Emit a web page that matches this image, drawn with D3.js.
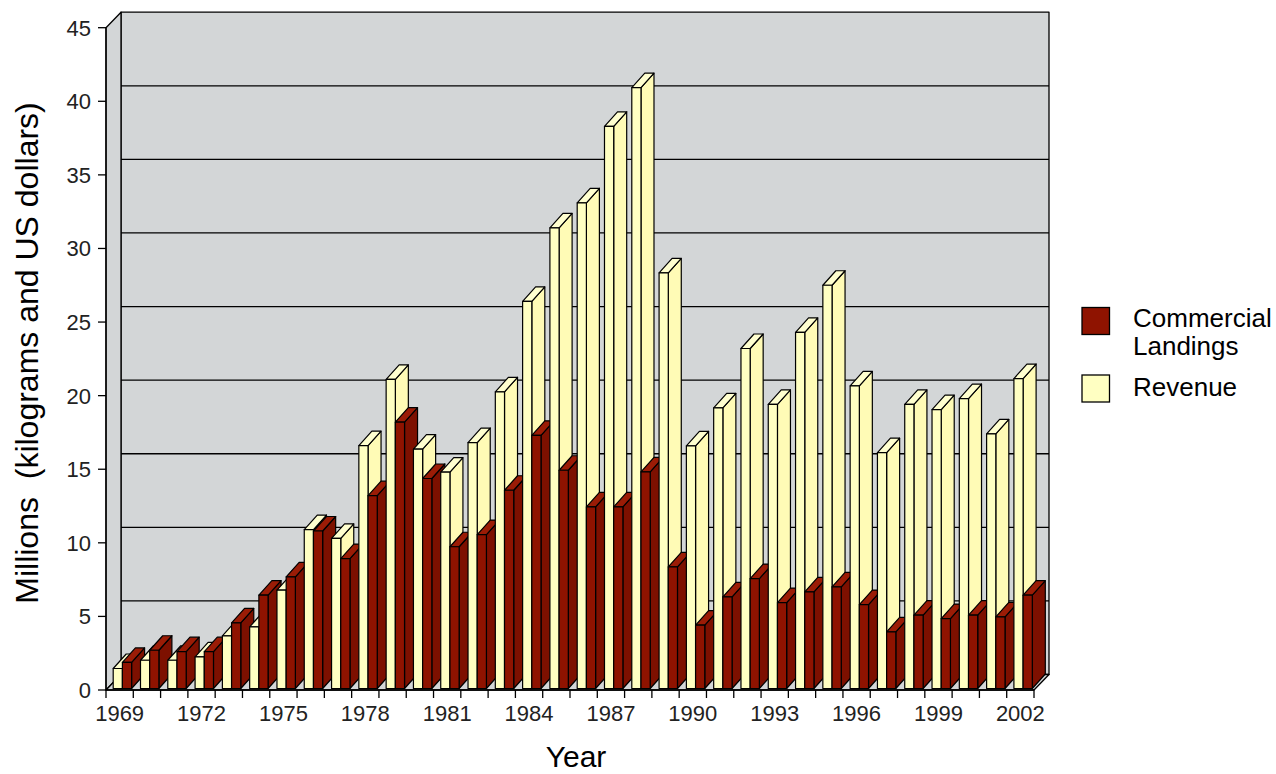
<!DOCTYPE html>
<html>
<head>
<meta charset="utf-8">
<script src="https://cdn.jsdelivr.net/npm/d3@7"></script>
<style>
  body { margin: 0; background: #fff; }
  text { font-family: "Liberation Sans", Arial, sans-serif; }
</style>
</head>
<body>
<div id="chart"></div>
<script>
// data
const years = [1969, 1970, 1971, 1972, 1973, 1974, 1975, 1976, 1977, 1978, 1979, 1980,
  1981, 1982, 1983, 1984, 1985, 1986, 1987, 1988, 1989, 1990, 1991, 1992, 1993, 1994,
  1995, 1996, 1997, 1998, 1999, 2000, 2001, 2002];
const revenue = [1.36, 1.92, 1.92, 2.15, 3.58, 4.19, 6.68, 10.8, 10.2, 16.5, 21.0, 16.26,
  14.7, 16.71, 20.16, 26.3, 31.3, 33.0, 38.2, 40.83, 28.24, 16.49, 19.07, 23.1, 19.3, 24.2,
  27.4, 20.56, 16.03, 19.3, 18.95, 19.7, 17.3, 21.06];
const landings = [1.77, 2.6, 2.5, 2.5, 4.46, 6.34, 7.59, 10.7, 8.83, 13.1, 18.1, 14.27,
  9.63, 10.46, 13.47, 17.2, 14.83, 12.34, 12.34, 14.72, 8.27, 4.3, 6.23, 7.47, 5.84, 6.57,
  6.91, 5.7, 3.85, 4.98, 4.75, 4.98, 4.87, 6.34];
const yTicks = [0, 5, 10, 15, 20, 25, 30, 35, 40, 45];
const xLabels = [1969, 1972, 1975, 1978, 1981, 1984, 1987, 1990, 1993, 1996, 1999, 2002];

const width = 1276, height = 774;
const plotLeft = 106, plotRight = 1034, plotBase = 690, plotTop = 27.7;
const depthX = 15, depthY = 15.5;      // wall depth
const barDX = 13, barDY = 14.5;        // bar depth
const grey = "#d3d6d7";
const red = { front: "#8f1300", side: "#7d1000", top: "#9b1c06" };
const yellow = { front: "#ffffc2", side: "#fffbb6", top: "#ffffcf" };

const svg = d3.select("#chart")
  .append("svg")
  .attr("width", width)
  .attr("height", height);

const x = d3.scaleBand().domain(years).range([plotLeft, plotRight]);
const y = d3.scaleLinear().domain([0, 45]).range([plotBase, plotTop]);

const line = d3.line();
const walls = svg.append("g")
  .attr("stroke", "#000")
  .attr("stroke-width", 1.3)
  .attr("stroke-linejoin", "round");

// back wall
walls.append("rect")
  .attr("x", plotLeft + depthX)
  .attr("y", y(45) - depthY)
  .attr("width", plotRight - plotLeft)
  .attr("height", plotBase - y(45))
  .attr("fill", grey);

// left wall
walls.append("path")
  .attr("fill", grey)
  .attr("d", line([[plotLeft, y(45)], [plotLeft + depthX, y(45) - depthY],
    [plotLeft + depthX, plotBase - depthY], [plotLeft, plotBase]]) + "Z");

// floor
walls.append("path")
  .attr("fill", grey)
  .attr("d", line([[plotLeft, plotBase], [plotRight, plotBase], [plotRight + depthX, plotBase - depthY],
    [plotLeft + depthX, plotBase - depthY]]) + "Z");

// gridlines on back wall
walls.selectAll("line.grid")
  .data(yTicks.filter(d => d > 0 && d < 45))
  .join("line")
  .attr("class", "grid")
  .attr("x1", plotLeft + depthX)
  .attr("x2", plotRight + depthX)
  .attr("y1", d => y(d) - depthY)
  .attr("y2", d => y(d) - depthY);

// bars
const barW = 9.2, barOff = 6.2;
const bars = svg.append("g")
  .attr("stroke", "#000")
  .attr("stroke-width", 1.2)
  .attr("stroke-linejoin", "round");

function box(x0, v, c) {
  const fx = x0 + 1, fb = plotBase - 1.5, ft = y(v) - 1.5;
  bars.append("path").attr("fill", c.side)
    .attr("d", line([[fx + barW, ft], [fx + barW + barDX, ft - barDY],
      [fx + barW + barDX, fb - barDY], [fx + barW, fb]]) + "Z");
  bars.append("path").attr("fill", c.top)
    .attr("d", line([[fx, ft], [fx + barW, ft], [fx + barW + barDX, ft - barDY],
      [fx + barDX, ft - barDY]]) + "Z");
  bars.append("rect").attr("fill", c.front)
    .attr("x", fx).attr("y", ft)
    .attr("width", barW).attr("height", fb - ft);
}

years.forEach((yr, i) => {
  const x0 = x(yr) + barOff;
  box(x0, revenue[i], yellow);
  box(x0 + barW, landings[i], red);
});

// axes
const axes = svg.append("g").attr("stroke", "#000").attr("stroke-width", 1.3);
axes.append("line").attr("x1", plotLeft).attr("x2", plotLeft).attr("y1", y(45)).attr("y2", plotBase);
axes.append("line").attr("x1", plotLeft).attr("x2", plotRight).attr("y1", plotBase).attr("y2", plotBase);
axes.selectAll("line.ytick")
  .data(yTicks)
  .join("line")
  .attr("class", "ytick")
  .attr("x1", plotLeft - 8).attr("x2", plotLeft)
  .attr("y1", d => y(d)).attr("y2", d => y(d));
axes.selectAll("line.xtick")
  .data(years.map(d => x(d)).concat([plotRight]))
  .join("line")
  .attr("class", "xtick")
  .attr("x1", d => d).attr("x2", d => d)
  .attr("y1", plotBase).attr("y2", plotBase + 8);

svg.append("g")
  .selectAll("text")
  .data(yTicks)
  .join("text")
  .attr("x", plotLeft - 15)
  .attr("y", d => y(d))
  .attr("dy", "0.36em")
  .attr("text-anchor", "end")
  .style("font-size", "22px")
  .style("fill", "#222")
  .text(d => d);

svg.append("g")
  .selectAll("text")
  .data(xLabels)
  .join("text")
  .attr("x", d => x(d) + x.bandwidth() / 2)
  .attr("y", 721)
  .attr("text-anchor", "middle")
  .style("font-size", "22px")
  .style("fill", "#222")
  .text(d => d);

// titles
svg.append("text")
  .attr("transform", "translate(38,353) rotate(-90)")
  .attr("text-anchor", "middle")
  .style("font-size", "32px")
  .style("white-space", "pre")
  .text("Millions  (kilograms and US dollars)");

svg.append("text")
  .attr("x", 576)
  .attr("y", 767)
  .attr("text-anchor", "middle")
  .style("font-size", "30px")
  .text("Year");

// legend
const legend = svg.append("g");
legend.append("rect")
  .attr("x", 1082).attr("y", 307.5).attr("width", 27.5).attr("height", 27)
  .attr("fill", red.front).attr("stroke", "#000").attr("stroke-width", 1.3);
legend.append("rect")
  .attr("x", 1082).attr("y", 375).attr("width", 27.5).attr("height", 27)
  .attr("fill", yellow.front).attr("stroke", "#000").attr("stroke-width", 1.3);
legend.append("text").attr("x", 1133).attr("y", 327).style("font-size", "26px").text("Commercial");
legend.append("text").attr("x", 1133).attr("y", 355).style("font-size", "26px").text("Landings");
legend.append("text").attr("x", 1133).attr("y", 396).style("font-size", "26px").text("Revenue");
</script>
</body>
</html>
